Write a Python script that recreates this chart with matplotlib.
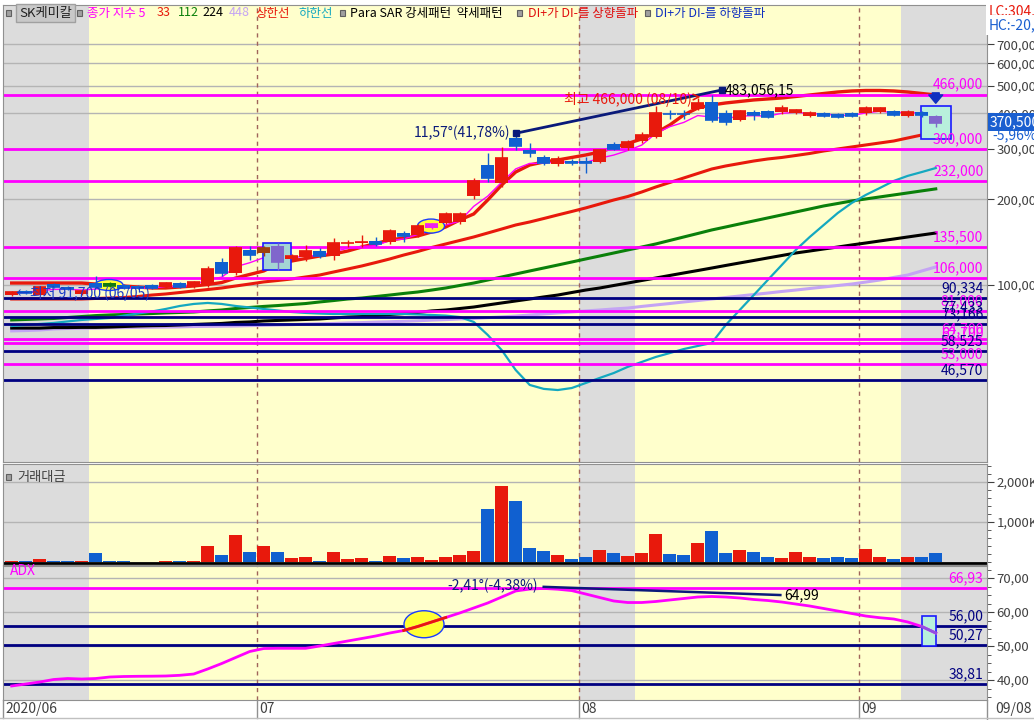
import matplotlib
matplotlib.use('Agg')
import matplotlib.pyplot as plt
import matplotlib.transforms as mtransforms
from matplotlib.patches import Rectangle, Ellipse
from matplotlib.lines import Line2D
from matplotlib.ticker import FixedLocator, MultipleLocator, NullLocator, FuncFormatter
import numpy as np

plt.rcParams['font.family'] = ['Liberation Sans Narrow', 'Noto Sans CJK KR', 'DejaVu Sans']
plt.rcParams['axes.unicode_minus'] = False

# SK케미칼 일봉 2020/06/05 ~ 2020/09/08 (가격 단위: 천원)
opens = [92.4, 95.0, 92.3, 100.8, 98.4, 92.8, 101.6, 101.6, 100.0, 99.2,
         100.0, 98.4, 101.6, 98.4, 100.0, 120.4, 110.2, 132.7, 129.5, 137.0,
         123.4, 125.4, 131.6, 126.4, 140.0, 140.2, 142.7, 141.6, 152.2, 150.0,
         158.5, 165.0, 166.3, 205.3, 263.7, 228.1, 327.8, 297.7, 281.2, 265.9,
         272.3, 272.3, 270.1, 312.4, 302.4, 320.1, 330.4, 399.0, 399.0, 414.7,
         438.9, 401.3, 379.2, 404.5, 407.9, 404.5, 401.3, 391.6, 401.3, 398.0,
         401.3, 401.3, 404.5, 408.0, 392.0, 404.5, 391.0]
highs = [95.2, 95.8, 99.5, 101.5, 99.2, 95.8, 107.5, 102.4, 100.8, 100.0,
         100.8, 102.4, 102.4, 103.2, 116.6, 124.4, 137.0, 137.0, 137.0, 140.4,
         128.0, 138.2, 134.8, 146.2, 144.0, 150.0, 147.4, 157.2, 154.7, 163.7,
         165.0, 180.4, 180.4, 237.4, 290.4, 305.0, 340.7, 314.8, 285.9, 283.5,
         277.0, 281.2, 300.1, 317.6, 322.9, 344.3, 424.5, 411.4, 411.4, 453.0,
         466.0, 411.4, 411.4, 411.4, 411.4, 428.2, 414.7, 408.0, 404.5, 401.0,
         404.5, 424.5, 421.0, 411.4, 410.0, 408.0, 395.0]
lows = [91.7, 93.0, 92.0, 97.6, 96.0, 92.0, 97.6, 98.0, 97.0, 97.2,
        96.8, 97.6, 97.6, 97.6, 98.4, 107.5, 108.4, 122.4, 126.4, 113.0,
        122.4, 121.4, 124.4, 122.4, 135.9, 136.0, 137.0, 139.3, 141.6, 147.4,
        157.0, 163.7, 164.0, 200.4, 229.9, 221.0, 297.7, 281.2, 263.7, 261.6,
        263.7, 247.1, 268.0, 297.7, 297.7, 314.8, 327.8, 382.8, 383.0, 411.4,
        373.3, 364.5, 376.0, 379.2, 385.4, 398.0, 398.0, 388.5, 388.5, 385.0,
        388.5, 395.0, 401.0, 391.6, 389.0, 390.0, 358.0]
closes = [94.3, 93.7, 98.4, 98.4, 96.8, 95.0, 98.4, 98.8, 97.6, 97.6,
          97.6, 101.6, 98.4, 102.5, 113.8, 110.2, 134.8, 127.4, 134.8, 120.4,
          126.4, 131.6, 126.4, 140.4, 140.8, 141.0, 139.3, 154.7, 148.6, 161.1,
          163.7, 177.5, 177.5, 231.8, 237.4, 278.9, 307.4, 290.4, 268.0, 277.0,
          268.0, 268.0, 297.7, 300.0, 317.6, 336.5, 401.3, 397.5, 397.0, 435.4,
          379.2, 373.3, 407.9, 394.8, 388.5, 417.9, 411.4, 401.3, 391.6, 388.5,
          391.6, 418.0, 418.0, 394.8, 405.0, 394.0, 370.5]

# 거래대금 (K)
volume_k = [25, 17, 83, 25, 25, 25, 233, 25, 25, 12,
            12, 25, 17, 25, 408, 183, 683, 258, 408, 258,
            108, 133, 33, 258, 83, 108, 33, 158, 108, 133,
            58, 133, 183, 283, 1333, 1908, 1533, 358, 283, 183,
            83, 133, 308, 233, 158, 233, 708, 208, 183, 483,
            783, 233, 308, 258, 133, 108, 258, 133, 108, 133,
            108, 333, 133, 83, 133, 133, 233]

# 지수이동평균 (천원)
ema5 = [94, 94, 95.5, 96.5, 96.6, 96, 96.8, 97.5, 97.5, 97.5,
        97.5, 98.9, 98.7, 100, 104.6, 106.5, 115.9, 119.7, 124.7, 123.3,
        124.3, 126.7, 126.6, 131.2, 134.4, 136.6, 137.5, 143.2, 145, 150.4,
        154.8, 162.4, 167.4, 188.8, 205, 229.6, 255.5, 267.1, 267.4, 270.6,
        269.7, 269.1, 278.6, 285.7, 296.3, 309.7, 340.2, 359.3, 371.9, 393.1,
        388.5, 383.4, 391.6, 392.7, 391.3, 400.2, 403.9, 399.8, 397.1, 394.2,
        393.3, 401.5, 407, 402.9, 403.6, 400.4, 390.4]
ema33 = [89.3, 89.3, 89.3, 89.3, 89.3, 89.3, 89.7, 90.0, 90.4, 91.1,
         92.2, 93.0, 94.1, 95.3, 96.4, 97.6, 99.2, 100.8, 102.5, 103.7,
         105.0, 106.7, 108.4, 111.1, 113.8, 116.6, 119.9, 123.4, 127.4, 131.1,
         135.4, 139.3, 143.3, 147.4, 152.2, 157.2, 162.4, 166.4, 171.1, 176.1,
         181.1, 186.4, 192.4, 198.7, 204.4, 212.0, 220.7, 228.9, 237.4, 246.2,
         255.3, 261.6, 266.9, 272.3, 276.8, 280.2, 284.7, 289.4, 295.3, 300.1,
         305.0, 310.0, 315.0, 320.1, 328.0, 336.0, 347.0]
ema112 = [75.4, 75.7, 76.0, 76.3, 76.9, 77.5, 78.1, 78.5, 78.8, 79.1,
          79.4, 79.8, 80.1, 80.4, 81.1, 81.7, 82.7, 83.4, 84.1, 84.7,
          85.4, 86.1, 87.2, 88.2, 89.3, 90.0, 91.1, 92.2, 93.4, 94.5,
          96.0, 97.6, 99.6, 101.6, 104.1, 106.7, 109.3, 112.0, 114.7, 117.5,
          120.4, 123.4, 126.4, 129.5, 132.7, 135.9, 139.3, 143.3, 147.4, 151.6,
          156.0, 159.8, 163.8, 167.8, 171.9, 176.1, 180.4, 184.8, 189.4, 193.2,
          197.2, 200.4, 203.7, 207.0, 210.4, 213.9, 217.4]
ema224 = [70.6, 70.6, 70.6, 70.9, 70.9, 71.0, 71.0, 71.2, 71.5, 71.8,
          72.0, 72.1, 72.4, 72.7, 73.0, 73.3, 73.9, 74.2, 74.8, 75.1,
          75.4, 75.7, 76.0, 76.6, 77.2, 77.5, 78.1, 78.8, 79.4, 80.1,
          81.1, 81.7, 82.7, 83.7, 85.1, 86.5, 87.9, 89.3, 90.8, 92.2,
          94.1, 96.0, 97.6, 99.6, 101.6, 103.7, 105.8, 108.0, 110.2, 112.4,
          114.7, 117.1, 119.5, 121.9, 124.4, 126.9, 129.5, 131.6, 133.8, 135.9,
          138.2, 140.4, 142.7, 145.0, 147.4, 149.8, 152.2]
ema448 = [69.0, 69.2, 69.5, 70.1, 70.4, 70.5, 70.6, 70.8, 70.9, 71.0,
          71.1, 71.2, 71.3, 71.5, 71.6, 71.7, 71.8, 72.0, 72.2, 72.4,
          72.6, 72.9, 73.1, 73.3, 73.6, 73.8, 74.1, 74.3, 74.6, 74.9,
          75.3, 75.6, 76.0, 76.3, 76.8, 77.3, 77.8, 78.5, 79.1, 79.8,
          80.4, 81.1, 81.7, 82.4, 83.0, 84.1, 85.1, 86.1, 87.2, 88.2,
          89.3, 90.4, 91.5, 92.6, 93.7, 94.9, 96.0, 97.2, 98.4, 99.6,
          100.8, 102.4, 104.1, 106.3, 108.4, 112.0, 115.7]
upper_line = [101.6, 101.6, 101.6, 101.6, 101.6, 101.6, 100.8, 100.0, 99.2, 98.4,
              97.6, 97.6, 98.4, 99.2, 100.4, 102.0, 105.8, 108.9, 112.0, 118.5,
              121.4, 123.9, 126.4, 128.5, 131.6, 135.9, 139.8, 143.9, 146.2, 148.6,
              153.5, 159.8, 169.1, 177.5, 198.7, 224.4, 249.2, 263.7, 270.2, 274.6,
              280.2, 285.9, 292.9, 303.8, 313.7, 325.4, 341.5, 364.3, 395.0, 418.0,
              428.2, 435.2, 440.5, 445.9, 449.5, 453.1, 458.6, 464.2, 469.9, 475.6,
              479.5, 481.4, 481.4, 479.5, 475.6, 469.9, 464.2]
lower_line = [71.8, 72.4, 73.0, 73.6, 74.5, 75.4, 76.0, 76.6, 78.1, 79.4,
              80.7, 82.4, 84.4, 85.8, 86.5, 85.8, 84.4, 83.4, 82.4, 81.4,
              80.4, 79.8, 79.4, 79.1, 79.1, 79.1, 79.1, 79.1, 79.1, 78.8,
              78.5, 78.1, 77.2, 74.2, 66.8, 59.1, 50.3, 44.6, 43.2, 42.8,
              43.5, 45.3, 47.2, 49.1, 51.6, 53.7, 55.9, 57.7, 59.6, 61.1,
              62.6, 72.4, 81.7, 92.2, 104.1, 117.5, 132.7, 147.4, 162.4, 178.9,
              194.0, 207.0, 218.9, 231.8, 241.5, 249.1, 257.3]

adx = [38.24, 38.82, 39.41, 40.15, 40.44, 40.29, 40.44, 40.88, 41.03, 41.09,
       41.12, 41.18, 41.38, 41.76, 43.24, 44.85, 46.62, 48.38, 49.26, 49.32,
       49.32, 49.32, 50.0, 50.74, 51.47, 52.2, 52.94, 53.82, 54.56, 55.74,
       57.06, 58.38, 59.71, 61.18, 62.65, 64.41, 66.18, 66.75, 66.93, 66.7,
       66.3, 65.29, 64.26, 63.24, 62.79, 62.79, 63.09, 63.53, 63.97, 64.41,
       64.56, 64.41, 64.12, 63.68, 63.38, 62.94, 62.35, 61.76, 61.03, 60.29,
       59.56, 58.82, 58.32, 57.94, 57.06, 55.74, 53.82]

month_labels = ['2020/06', '07', '08', '09']
last_date = '09/08'

mag_levels = [466000, 300000, 232000, 135500, 106000, 81000, 64700, 62700, 53000]
navy_levels = [90334, 77433, 73166, 58525, 46570]
adx_mag_levels = [66.93]
adx_navy_levels = [56.00, 50.27, 38.81]

RED = '#e8190c'
BLUE = '#1060d0'
MAG = '#ff00ff'
NAVY = '#000080'
TXT = '#404040'

o = np.array(opens) * 1000
h = np.array(highs) * 1000
l = np.array(lows) * 1000
c = np.array(closes) * 1000
n = len(c)
x = np.arange(n)
up = c >= o
colors = np.where(up, RED, BLUE).astype(object)
vcolors = colors.copy()
# 패턴 강조된 봉
highlight = {7: '#127a12', 18: '#a0400c', 19: '#8066cc', 30: '#ee22ee', 66: '#8066cc'}
for k, col in highlight.items():
    colors[k] = col

W, H = 1034, 720
def box(x0, y0, x1, y1):
    return [x0 / W, 1 - y1 / H, (x1 - x0) / W, (y1 - y0) / H]
def fx(px):
    return px / W
def fy(py):
    return 1 - py / H

fig = plt.figure(figsize=(10.34, 7.2), dpi=100, facecolor='white')
ax = fig.add_axes(box(3, 5, 987, 462))
axv = fig.add_axes(box(3, 464, 987, 565))
axa = fig.add_axes(box(3, 566, 987, 700))
XL = (-0.62, 69.66)

for a in (ax, axv, axa):
    for s0, s1 in [(-0.62, 5.5), (40.5, 44.5), (63.5, 69.66)]:
        a.axvspan(s0, s1, color='#dcdcdc', lw=0, zorder=0)
    for s0, s1 in [(5.5, 40.5), (44.5, 63.5)]:
        a.axvspan(s0, s1, color='#ffffcc', lw=0, zorder=0)
    for b in (17.5, 40.5, 60.5):
        a.axvline(b, color='#a0645a', lw=1, ls=(0, (3, 3)), zorder=1)
    for sp in a.spines.values():
        sp.set_color('#909090')
    a.set_xlim(*XL)
    a.set_xticks([])
    a.yaxis.tick_right()
    a.tick_params(axis='y', which='both', colors=TXT, labelsize=9.5, length=5, pad=2)
    a.tick_params(axis='y', which='minor', length=3)
    a.yaxis.grid(True, color='#b4b4b4', lw=1, zorder=0.5)
    a.set_axisbelow(True)

# ---- 가격 ----
ax.set_yscale('log')
ax.plot(x, np.array(ema448) * 1000, color='#c4a4f4', lw=2.2, zorder=2)
ax.plot(x, np.array(ema224) * 1000, color='black', lw=2.2, zorder=2)
ax.plot(x, np.array(ema112) * 1000, color='#0a800a', lw=2.2, zorder=2)
ax.plot(x, np.array(ema33) * 1000, color=RED, lw=2.2, zorder=2)
ax.plot(x, np.array(upper_line) * 1000, color=RED, lw=2.4, zorder=2)
ax.plot(x, np.array(lower_line) * 1000, color='#14a8c0', lw=1.6, zorder=2)
ax.plot(x, np.array(ema5) * 1000, color=MAG, lw=1, zorder=2.2)

for v in mag_levels:
    ax.axhline(v, color=MAG, lw=2, zorder=2.5)
    ax.annotate(f'{v:,}', (69.4, v), xytext=(0, 2), textcoords='offset points',
                ha='right', va='bottom', color=MAG, fontsize=10, zorder=6)
for v in navy_levels:
    ax.axhline(v, color=NAVY, lw=2, zorder=2.5)
    ax.annotate(f'{v:,}', (69.4, v), xytext=(0, 2), textcoords='offset points',
                ha='right', va='bottom', color=NAVY, fontsize=10, zorder=6)

# 강조 박스
ax.add_patch(Rectangle((17.95, 113000), 2.0, 140400 - 113000, fc='#a4d4d4', ec='#1a1aff', lw=1.2, zorder=2.8))
ax.add_patch(Rectangle((64.98, 325000), 2.12, 424500 - 325000, fc='#b8f0dc', ec='#1a1aff', lw=1.2, zorder=2.8))

def px_ellipse(a, xd, yd, wpx, hpx):
    tr = fig.dpi_scale_trans + mtransforms.ScaledTranslation(xd, yd, a.transData)
    e = Ellipse((0, 0), wpx / 100, hpx / 100, transform=tr, fc='#ffff33', ec='#1a3cff', lw=1, zorder=2.9)
    a.add_artist(e)

px_ellipse(ax, 6.95, 100000, 28, 11)
px_ellipse(ax, 29.95, 161000, 27, 14)

# 캔들
ax.vlines(x, l, h, colors=list(colors), lw=1, zorder=3)
ax.bar(x, np.abs(c - o), bottom=np.minimum(o, c), width=0.9, color=list(colors), lw=0, zorder=3.1)
ax.hlines(c, x - 0.45, x + 0.45, colors=list(colors), lw=1.2, zorder=3.1)

# 주석
ax.text(0.3, 93500, '←최저 91,700 (06/05)', color='#1a3cc8', fontsize=10, va='center', zorder=6)
ax.annotate('최고 466,000 (08/10)', xy=(49.4, 458000), xytext=(48.6, 448000),
            ha='right', va='center', color=RED, fontsize=10, zorder=6,
            arrowprops=dict(arrowstyle='->', color=RED, lw=1.2))
ax.plot([36, 50.7], [340700, 483056], color='#0a1a7a', lw=2, marker='s', ms=5, zorder=5)
ax.text(35.6, 340700, '11,57°(41,78%)', ha='right', va='center', color='#0a1a7a', fontsize=10, zorder=6)
ax.text(50.95, 483056, '483,056,15', ha='left', va='center', color='black', fontsize=10, zorder=6)
ax.annotate('', xy=(66, 424500), xytext=(66, 483000),
            arrowprops=dict(arrowstyle='simple,head_width=1.0,head_length=0.6,tail_width=0.5',
                            fc='#1030c0', ec='#1030c0'), zorder=6)

ax.set_ylim(23930, 960400)
ax.yaxis.set_major_locator(FixedLocator([100000, 200000, 300000, 400000, 500000, 600000, 700000]))
ax.yaxis.set_minor_locator(NullLocator())
ax.yaxis.set_major_formatter(FuncFormatter(lambda v, p: f'{v:,.0f}'))
ax.set_xlim(*XL)

# ---- 거래대금 ----
axv.axhline(-25, color='black', lw=2, zorder=1.5)
axv.bar(x, volume_k, width=0.93, color=list(vcolors), lw=0, zorder=2)
axv.set_ylim(-75, 2450)
axv.yaxis.set_major_locator(FixedLocator([1000, 2000]))
axv.yaxis.set_minor_locator(MultipleLocator(200))
axv.yaxis.set_major_formatter(FuncFormatter(lambda v, p: f'{v:,.0f}K'))
axv.set_xlim(*XL)

# ---- ADX ----
for v in adx_mag_levels:
    axa.axhline(v, color=MAG, lw=2, zorder=2.5)
    axa.annotate(f'{v:.2f}'.replace('.', ','), (69.4, v), xytext=(0, 2), textcoords='offset points',
                 ha='right', va='bottom', color=MAG, fontsize=10)
for v in adx_navy_levels:
    axa.axhline(v, color=NAVY, lw=2, zorder=2.5)
    axa.annotate(f'{v:.2f}'.replace('.', ','), (69.4, v), xytext=(0, 2), textcoords='offset points',
                 ha='right', va='bottom', color=NAVY, fontsize=10)
axa.add_patch(Rectangle((65.0, 50.0), 1.0, 8.82, fc='#b8f0dc', ec='#1a1aff', lw=1.2, zorder=2.8))
px_ellipse(axa, 29.45, 56.4, 40, 27)
axa.plot(x, adx, color=MAG, lw=2, zorder=3)
axa.plot(x[28:32], adx[28:32], color=RED, lw=2, zorder=3.2)
axa.plot(x[65:], adx[65:], color='#9050e0', lw=2, zorder=3.2)
axa.plot([38, 54.9], [67.4, 64.99], color='#0a1a7a', lw=1.8, zorder=4)
axa.text(37.6, 67.6, '-2,41°(-4,38%)', ha='right', va='center', color='#0a1a7a', fontsize=10)
axa.text(55.2, 64.99, '64,99', ha='left', va='center', color='black', fontsize=10)
axa.text(-0.1, 72.0, 'ADX', color=MAG, fontsize=10, va='center')
axa.set_ylim(34.12, 73.53)
axa.yaxis.set_major_locator(FixedLocator([40, 50, 60, 70]))
axa.yaxis.set_minor_locator(MultipleLocator(2.5))
axa.yaxis.set_major_formatter(FuncFormatter(lambda v, p: f'{v:.2f}'.replace('.', ',')))
axa.set_xlim(*XL)

# 날짜 축
btr = mtransforms.blended_transform_factory(axa.transData, fig.transFigure)
for b, lab in zip([-0.62, 17.5, 40.5, 60.5], month_labels):
    fig.add_artist(Line2D([b, b], [fy(700), fy(718)], transform=btr, color='#909090', lw=1))
    fig.text(b + 0.15, fy(709), lab, transform=btr, ha='left', va='center', color=TXT, fontsize=10)
fig.add_artist(Line2D([fx(987), fx(987)], [fy(700), fy(720)], color='#909090', lw=1))
fig.add_artist(Line2D([0, 1], [fy(718), fy(718)], color='#c0c0c0', lw=1))
fig.text(fx(995), fy(709), last_date, ha='left', va='center', color=TXT, fontsize=10)

# 범례
def square(px, py):
    fig.add_artist(Rectangle((fx(px), fy(py + 3)), 5 / W, 6 / H, transform=fig.transFigure,
                             fc='#a0a0a0', ec='#606060', lw=0.8))
square(6, 13)
fig.text(fx(19), fy(13), 'SK케미칼', ha='left', va='center', color='#202020', fontsize=9.5,
         bbox=dict(boxstyle='square,pad=0.2', fc='#c8c8c8', ec='#a0a0a0', lw=1))
square(77, 13)
legend_items = [(87, '종가 지수 5', MAG), (157, '33', RED), (178, '112', '#0a800a'),
                (202, '224', 'black'), (229, '448', '#c4a4f4'), (255, '상한선', RED),
                (298, '하한선', '#14a8c0'), (350, 'Para SAR 강세패턴  약세패턴', 'black'),
                (528, 'DI+가 DI-를 상향돌파', '#e01010'), (655, 'DI+가 DI-를 하향돌파', '#1030c0')]
for px, t, col in legend_items:
    fig.text(fx(px), fy(13), t, ha='left', va='center', color=col, fontsize=9)
for px in (340, 517, 645):
    square(px, 13)
square(6, 477)
fig.text(fx(17), fy(477), '거래대금', ha='left', va='center', color=TXT, fontsize=9.5)

# 우측 표시
fig.text(fx(989), fy(11), 'LC:304,000', ha='left', va='center', color=RED, fontsize=10,
         bbox=dict(boxstyle='square,pad=0.25', fc='white', ec='none'))
fig.text(fx(989), fy(25), 'HC:-20,45%', ha='left', va='center', color='#1a5fd0', fontsize=10,
         bbox=dict(boxstyle='square,pad=0.25', fc='white', ec='none'))
fig.text(fx(990), fy(122), '370,500', ha='left', va='center', color='white', fontsize=10,
         bbox=dict(boxstyle='square,pad=0.15', fc='#1a5fd0', ec='none'))
fig.text(fx(992), fy(135), '-5,96%', ha='left', va='center', color='#1a5fd0', fontsize=10)

fig.savefig('out.png', dpi=100, facecolor='white')
